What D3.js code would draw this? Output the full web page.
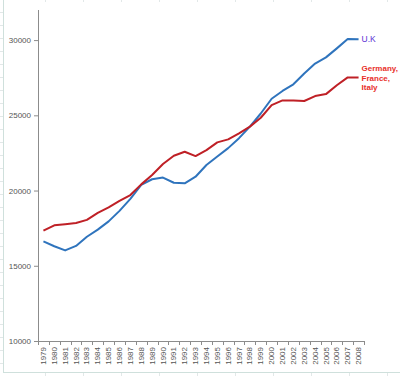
<!DOCTYPE html>
<html>
<head>
<meta charset="utf-8">
<script src="https://cdn.jsdelivr.net/npm/d3@7"></script>
<style>
  body { margin: 0; background: #fff; }
  svg { display: block; font-family: "Liberation Sans", Arial, sans-serif; }
</style>
</head>
<body>
<div id="graph"></div>
<script>
// Données
const years = ["1979","1980","1981","1982","1983","1984","1985","1986","1987","1988",
  "1989","1990","1991","1992","1993","1994","1995","1996","1997","1998",
  "1999","2000","2001","2002","2003","2004","2005","2006","2007","2008"];

const ukValues = [16620, 16300, 16020, 16320, 16930, 17400, 17950, 18650, 19450, 20380,
  20750, 20860, 20520, 20480, 20920, 21700, 22260, 22820, 23480, 24250,
  25120, 26100, 26620, 27060, 27780, 28440, 28850, 29450, 30070, 30050];

const gfiValues = [17330, 17690, 17760, 17840, 18050, 18520, 18880, 19310, 19700, 20410,
  21030, 21760, 22310, 22580, 22290, 22690, 23200, 23400, 23800, 24250,
  24840, 25680, 25990, 25980, 25950, 26280, 26410, 27000, 27520, 27520];

const yTicks = [10000, 15000, 20000, 25000, 30000];

const series = [
  { label: ["U.K"], values: ukValues, col: "#2f74bd", textCol: "#5a2fd4", bold: false, size: 8.5 },
  { label: ["Germany,", "France,", "Italy"], values: gfiValues, col: "#bf2026", textCol: "#e8302b", bold: true, size: 8 }
];

// Canevas
const width = 400;
const height = 376;

const svg = d3.select("#graph")
  .append("svg")
  .attr("width", width)
  .attr("height", height);

// Fond type tableur
const gridCol = "#cfe0dc";
svg.append("line")
  .attr("x1", 3.5).attr("x2", 3.5).attr("y1", 0).attr("y2", 372)
  .attr("stroke", gridCol);
svg.append("line")
  .attr("x1", 3).attr("x2", 400).attr("y1", 372.5).attr("y2", 372.5)
  .attr("stroke", gridCol);
d3.range(45, 400, 38).forEach(x => {
  svg.append("line")
    .attr("x1", x + 0.5).attr("x2", x + 0.5).attr("y1", 0).attr("y2", 2)
    .attr("stroke", "#e2e8e8");
  svg.append("line")
    .attr("x1", x + 0.5).attr("x2", x + 0.5).attr("y1", 373).attr("y2", 376)
    .attr("stroke", "#e2e8e8");
});
d3.range(12, 372, 13).forEach(y => {
  svg.append("line")
    .attr("x1", 0).attr("x2", 3).attr("y1", y + 0.5).attr("y2", y + 0.5)
    .attr("stroke", "#e2e8e8");
});

// Échelles
const plotLeft = 38;
const plotRight = 364;
const plotTop = 10;
const plotBottom = 341;

const scaleX = d3.scaleBand()
  .domain(years)
  .range([plotLeft, plotRight]);

const scaleY = d3.scaleLinear()
  .domain([10000, 32000])
  .range([plotBottom, plotTop]);

const xPos = d => scaleX(d) + scaleX.bandwidth() / 2;

// Axes
const yAxis = g => g
  .attr("transform", `translate(${plotLeft}, 0)`)
  .call(d3.axisLeft(scaleY).tickValues(yTicks).tickSize(4).tickPadding(3).tickFormat(d3.format("d")))
  .call(g => g.select(".domain")
    .attr("d", `M0.5,${plotTop}V${plotBottom}`)
    .attr("stroke", "#8c8c8c"))
  .call(g => g.selectAll(".tick line").attr("stroke", "#8c8c8c"))
  .call(g => g.selectAll(".tick text")
    .attr("font-size", "8px")
    .attr("fill", "#555")
    .attr("font-family", "'Liberation Sans', Arial, sans-serif"));

const xAxis = g => g
  .attr("transform", `translate(0, ${plotBottom})`)
  .call(d3.axisBottom(scaleX).tickSize(0).tickPadding(0))
  .call(g => g.select(".domain")
    .attr("d", `M${plotLeft},0.5H${plotRight}`)
    .attr("stroke", "#8c8c8c"))
  .call(g => g.selectAll(".tick text")
    .attr("font-size", "8px")
    .attr("fill", "#555")
    .attr("font-family", "'Liberation Sans', Arial, sans-serif")
    .attr("text-anchor", "end")
    .attr("dy", "0.32em")
    .attr("transform", "translate(0, 6) rotate(-90)")
    .attr("x", 0)
    .attr("y", 0));

svg.append("g").call(yAxis);
svg.append("g").call(xAxis);

// Graduations entre catégories
svg.append("g")
  .selectAll("line")
  .data(years.concat(["end"]))
  .join("line")
  .attr("x1", (d, i) => Math.round(plotLeft + i * scaleX.bandwidth()) + 0.5)
  .attr("x2", (d, i) => Math.round(plotLeft + i * scaleX.bandwidth()) + 0.5)
  .attr("y1", plotBottom)
  .attr("y2", plotBottom + 4)
  .attr("stroke", "#8c8c8c");

// Courbes
const line = d3.line()
  .x((d, i) => xPos(years[i]))
  .y(d => scaleY(d));

svg.append("g")
  .selectAll("path")
  .data(series)
  .join("path")
  .attr("fill", "none")
  .attr("stroke", d => d.col)
  .attr("stroke-width", 2)
  .attr("stroke-linejoin", "round")
  .attr("d", d => line(d.values));

// Étiquettes
const lastYear = years[years.length - 1];

series.forEach(s => {
  const lastVal = s.values[s.values.length - 1];
  const t = svg.append("text")
    .attr("x", xPos(lastYear) + 3)
    .attr("y", scaleY(lastVal) - (s.label.length > 1 ? 9 : 0))
    .attr("font-size", s.size + "px")
    .attr("font-weight", s.bold ? "bold" : "normal")
    .attr("fill", s.textCol);
  s.label.forEach((l, i) => {
    t.append("tspan")
      .attr("x", xPos(lastYear) + 3)
      .attr("dy", i === 0 ? "0.35em" : "1.2em")
      .text(l);
  });
});
</script>
</body>
</html>
